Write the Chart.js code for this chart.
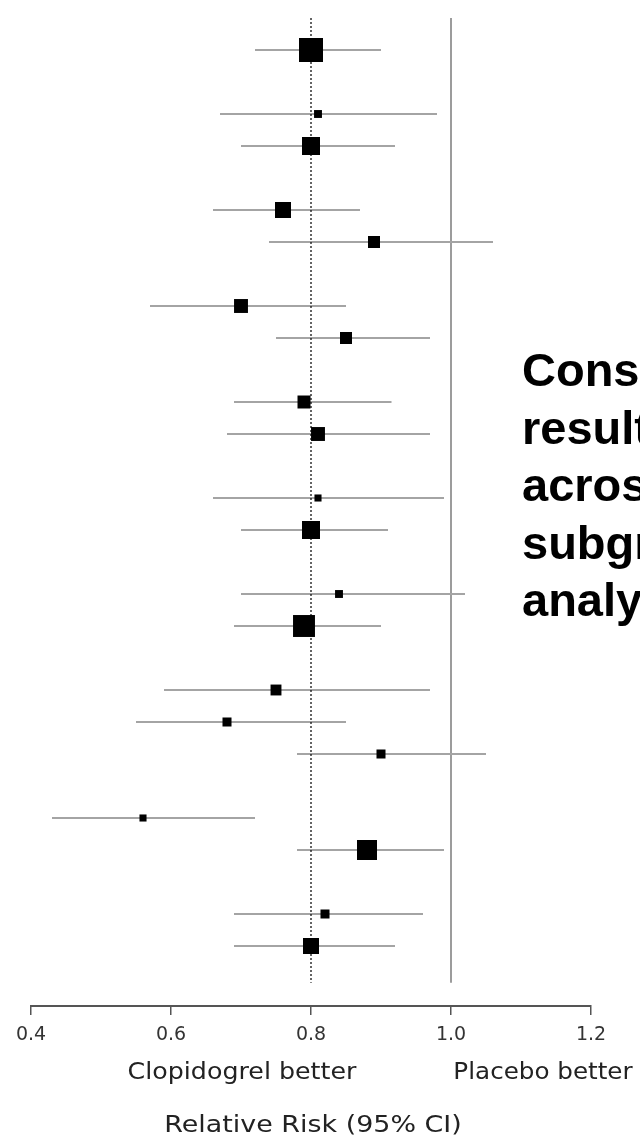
<!DOCTYPE html>
<html>
<head>
<meta charset="utf-8">
<script src="https://cdn.jsdelivr.net/npm/chart.js@4.4.1/dist/chart.umd.min.js"></script>
<style>
  html, body { margin: 0; padding: 0; background: #fff; }
  #wrap { width: 640px; height: 1144px; position: relative; }
</style>
</head>
<body>
<div id="wrap"><canvas id="forest"></canvas></div>
<script>
// rows counted from the top; the skipped rows are the subgroup headings
const rowIndex = [0, 2, 3, 5, 6, 8, 9, 11, 12, 14, 15, 17, 18, 20, 21, 22, 24, 25, 27, 28];
const relRisk  = [0.80, 0.81, 0.80, 0.76, 0.89, 0.70, 0.85, 0.79, 0.81, 0.81, 0.80, 0.84, 0.79, 0.75, 0.68, 0.90, 0.56, 0.88, 0.82, 0.80];
const ciLow    = [0.72, 0.67, 0.70, 0.66, 0.74, 0.57, 0.75, 0.69, 0.68, 0.66, 0.70, 0.70, 0.69, 0.59, 0.55, 0.78, 0.43, 0.78, 0.69, 0.69];
const ciHigh   = [0.90, 0.98, 0.92, 0.87, 1.06, 0.85, 0.97, 0.915, 0.97, 0.99, 0.91, 1.02, 0.90, 0.97, 0.85, 1.05, 0.72, 0.99, 0.96, 0.92];
// relative weight of each subgroup (square area)
const groupWeight = [0.92, 0.10, 0.52, 0.41, 0.23, 0.31, 0.23, 0.27, 0.31, 0.08, 0.52, 0.10, 0.77, 0.19, 0.13, 0.13, 0.08, 0.64, 0.13, 0.41];
const xTicks = [0.4, 0.6, 0.8, 1.0, 1.2];
const overallRR = 0.8;
const noEffect = 1.0;
const sideNote = ['Consistent', 'results', 'across', 'subgroup', 'analysis'];

const points = rowIndex.map((r, i) => ({ x: relRisk[i], y: r }));
const squareSide = groupWeight.map(w => 25 * Math.sqrt(w));

// texte élargi (la police de la figure est plus large que DejaVu)
function wideText(ctx, txt, cx, base, sx) {
    ctx.save();
    ctx.translate(cx, base);
    ctx.scale(sx, 1);
    ctx.textAlign = 'center';
    ctx.textBaseline = 'alphabetic';
    ctx.fillText(txt, 0, 0);
    ctx.restore();
}

const forestLines = {
    id: 'forestLines',
    beforeDatasetsDraw(chart) {
        const { ctx, scales: { x, y } } = chart;
        const top = y.getPixelForValue(-1);
        const bot = y.getPixelForValue(29.15);
        ctx.save();

        // ligne "pas d'effet"
        ctx.strokeStyle = '#9c9c9c';
        ctx.lineWidth = 2;
        const x1 = x.getPixelForValue(noEffect);
        ctx.beginPath(); ctx.moveTo(x1, top); ctx.lineTo(x1, bot); ctx.stroke();

        // intervalles de confiance
        ctx.strokeStyle = '#a4a4a4';
        ctx.lineWidth = 2;
        rowIndex.forEach((r, i) => {
            const py = y.getPixelForValue(r);
            ctx.beginPath();
            ctx.moveTo(x.getPixelForValue(ciLow[i]), py);
            ctx.lineTo(x.getPixelForValue(ciHigh[i]), py);
            ctx.stroke();
        });

        // effet global en pointillé
        ctx.strokeStyle = '#111';
        ctx.lineWidth = 1.3;
        ctx.setLineDash([2, 2]);
        const x8 = x.getPixelForValue(overallRR);
        ctx.beginPath(); ctx.moveTo(x8, top); ctx.lineTo(x8, bot); ctx.stroke();
        ctx.restore();
    },
    afterDraw(chart) {
        const { ctx, scales: { x } } = chart;
        ctx.save();
        ctx.fillStyle = '#222';
        ctx.font = '23px "DejaVu Sans"';
        wideText(ctx, 'Clopidogrel better', 242, 1079, 1.1);
        wideText(ctx, 'Placebo better', 543, 1079, 1.07);
        wideText(ctx, 'Relative Risk (95% CI)', x.getPixelForValue(overallRR) + 2, 1132, 1.17);

        ctx.fillStyle = '#000';
        ctx.font = 'bold 47px "Liberation Sans", Arial, sans-serif';
        ctx.textAlign = 'left';
        sideNote.forEach((line, i) => ctx.fillText(line, 522, 386 + i * 57.5));
        ctx.restore();
    }
};

new Chart(document.getElementById('forest'), {
    type: 'scatter',
    data: {
        datasets: [{
            data: points,
            pointStyle: 'rect',
            pointRadius: squareSide.map(s => s / Math.SQRT2),
            pointHoverRadius: squareSide.map(s => s / Math.SQRT2),
            backgroundColor: '#000',
            borderWidth: 0
        }]
    },
    options: {
        responsive: true,
        maintainAspectRatio: false,
        animation: false,
        events: [],
        layout: { padding: { top: 18, left: 31, right: 49, bottom: 0 } },
        plugins: { legend: { display: false }, tooltip: { enabled: false } },
        scales: {
            x: {
                type: 'linear',
                min: xTicks[0],
                max: xTicks[xTicks.length - 1],
                afterBuildTicks: s => { s.ticks = xTicks.map(v => ({ value: v })); },
                afterFit: s => { s.height = 138; },
                grid: { drawOnChartArea: false, drawTicks: true, tickLength: 9, color: '#555', lineWidth: 1.5 },
                border: { color: '#555', width: 2 },
                ticks: {
                    padding: 9,
                    color: '#333',
                    font: { family: '"DejaVu Sans"', size: 19 },
                    callback: v => Number(v).toFixed(1)
                }
            },
            y: {
                type: 'linear',
                reverse: true,
                min: -1,
                max: 29.875,
                display: false
            }
        }
    },
    plugins: [forestLines]
});
</script>
</body>
</html>
